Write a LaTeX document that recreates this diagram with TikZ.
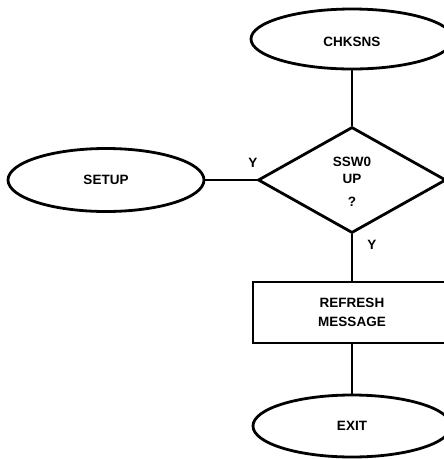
\documentclass[tikz,border=0pt]{standalone}
\usepackage{fontspec}
\setmainfont{Liberation Sans}
\usetikzlibrary{shapes.geometric}
\begin{document}
\begin{tikzpicture}[x=1pt,y=-1pt,
  every node/.style={font=\bfseries\fontsize{13.5}{15}\selectfont, inner sep=0pt},
  term/.style={draw, ellipse, line width=2.8pt, minimum width=198pt, minimum height=61pt},
  decis/.style={draw, diamond, line width=2.8pt, minimum width=188pt, minimum height=106pt, aspect=1.77},
  procbox/.style={draw, rectangle, line width=2.2pt, minimum width=198pt, minimum height=61pt},
  conn/.style={line width=2pt},
  lbl/.style={}]
\useasboundingbox (0,0) rectangle (444,459);
\clip (0,0) rectangle (444,459);
\node[term, minimum width=202pt, minimum height=60pt] (chk) at (352,39) {};
\node at (352,42) {CHKSNS};
\node[decis] (dec) at (352,180) {};
\node at (352,162) {SSW0};
\node at (352,179) {UP};
\node at (352,202) {?};
\node[term, minimum width=196pt, minimum height=63pt] (setup) at (106,180) {SETUP};
\node[procbox] (ref) at (352,312.5) {};
\node at (352,303) {REFRESH};
\node at (352,321.5) {MESSAGE};
\node[term, minimum width=198pt, minimum height=62pt] (exit) at (352,426) {EXIT};
\draw[conn] (chk.south) -- (dec.north);
\draw[conn] (dec.west) -- (setup.east);
\draw[conn] (dec.south) -- (ref.north);
\draw[conn] (ref.south) -- (exit.north);
\node[lbl] (y1) at (253,163) {Y};
\node[lbl] (y2) at (372,245) {Y};
\end{tikzpicture}
\end{document}
